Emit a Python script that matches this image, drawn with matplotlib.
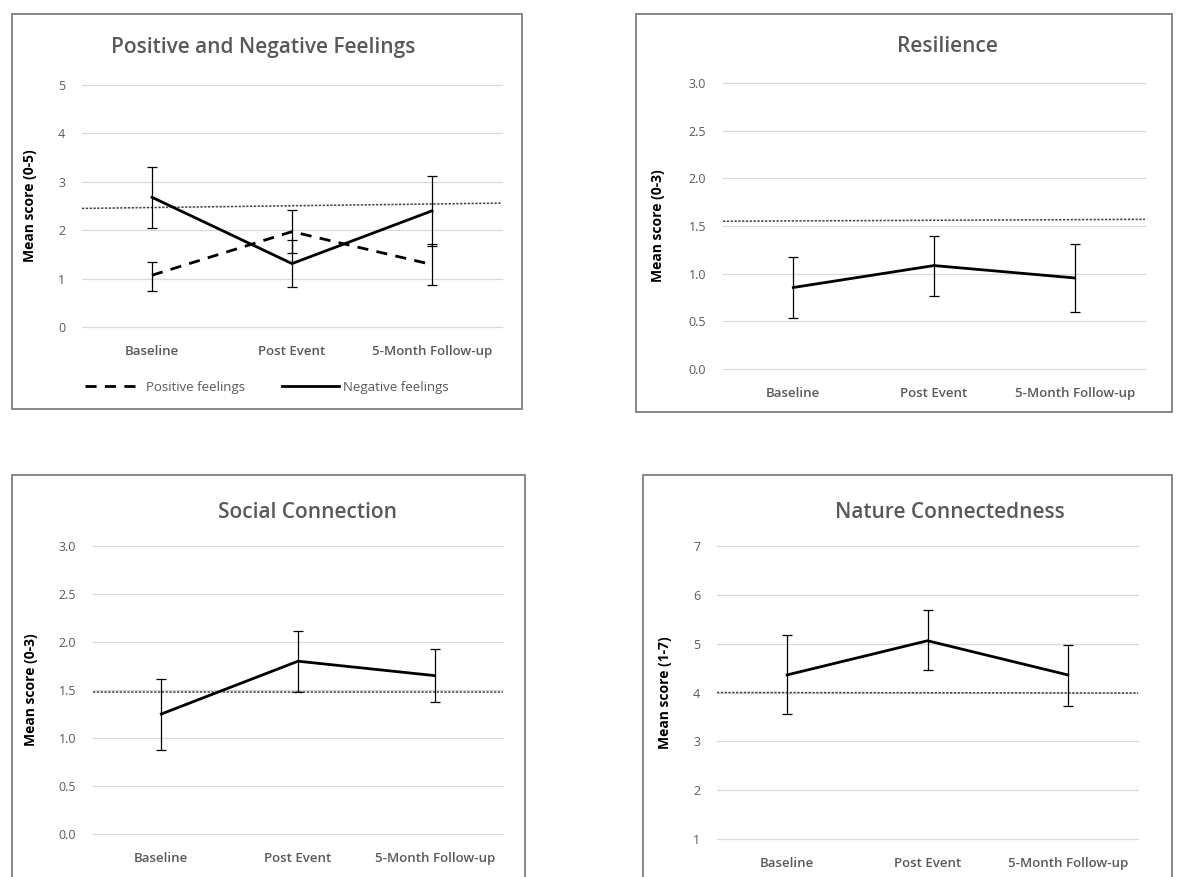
import matplotlib
matplotlib.use("Agg")
import matplotlib.pyplot as plt
from matplotlib.patches import Rectangle

plt.rcParams['font.family'] = ['Open Sans', 'DejaVu Sans']

W, H = 1177, 877

categories = ['Baseline', 'Post Event', '5-Month Follow-up']

# Positive and Negative Feelings
pos_mean = [1.07, 1.97, 1.29]
pos_lo = [0.74, 1.52, 0.87]
pos_hi = [1.35, 2.42, 1.71]
neg_mean = [2.68, 1.31, 2.40]
neg_lo = [2.04, 0.83, 1.68]
neg_hi = [3.31, 1.80, 3.12]
feel_ref = [2.45, 2.56]

# Resilience
res_mean = [0.855, 1.085, 0.955]
res_lo = [0.54, 0.77, 0.60]
res_hi = [1.17, 1.40, 1.31]
res_ref = [1.55, 1.57]

# Social Connection
soc_mean = [1.25, 1.80, 1.65]
soc_lo = [0.88, 1.48, 1.37]
soc_hi = [1.61, 2.11, 1.93]
soc_ref = [1.48, 1.48]

# Nature Connectedness
nat_mean = [4.36, 5.06, 4.36]
nat_lo = [3.56, 4.46, 3.73]
nat_hi = [5.17, 5.69, 4.98]
nat_ref = [4.0, 3.99]

GRAY = '#595959'
GRID = '#d9d9d9'

fig = plt.figure(figsize=(W / 100, H / 100), dpi=100)


def px_axes(x0, x1, ytop, ybot):
    return fig.add_axes([x0 / W, 1 - ybot / H, (x1 - x0) / W, (ybot - ytop) / H])


def frame(x0, x1, ytop, ybot):
    fig.patches.append(Rectangle((x0 / W, 1 - ybot / H), (x1 - x0) / W, (ybot - ytop) / H,
                                 transform=fig.transFigure, fill=False,
                                 edgecolor='#7f7f7f', lw=1.3))


def series(ax, mean, lo, hi, ls='-'):
    x = list(range(len(mean)))
    err = [[m - l for m, l in zip(mean, lo)], [h - m for m, h in zip(mean, hi)]]
    ax.errorbar(x, mean, yerr=err, fmt='none', ecolor='black', elinewidth=0.9,
                capsize=3.5, capthick=0.9, zorder=3)
    line, = ax.plot(x, mean, color='black', lw=2.0, ls=ls, zorder=4)
    return line


def style(ax, ylim, ticks, fmt, ylabel, label_x, x0, x1):
    ax.set_xlim(-0.5, 2.5)
    ax.set_ylim(*ylim)
    ax.set_yticks(ticks)
    ax.set_yticklabels([fmt.format(t) for t in ticks])
    ax.set_xticks(range(3))
    ax.set_xticklabels(categories, fontsize=9.5, color=GRAY, fontweight='semibold')
    for s in ax.spines.values():
        s.set_visible(False)
    ax.tick_params(length=0)
    ax.tick_params(axis='y', labelsize=9, labelcolor=GRAY, pad=12)
    ax.tick_params(axis='x', pad=13)
    for t in ticks:
        ax.axhline(t, color=GRID, lw=0.9, zorder=1, clip_on=False)
    ax.set_ylabel(ylabel, fontsize=10, fontweight='bold', color='black')
    ax.yaxis.set_label_coords((label_x - x0) / (x1 - x0), 0.5)


def ref_line(ax, ref):
    ax.plot([-0.5, 2.5], ref, color='#404040', lw=1.1, ls=(0, (1.5, 1)), zorder=2,
            clip_on=False)


# panel 1
frame(12, 522, 14, 409)
ax1 = px_axes(82, 502, 85, 327)
style(ax1, (0, 5), [0, 1, 2, 3, 4, 5], '{:.0f}', 'Mean score (0-5)', 37, 82, 502)
ref_line(ax1, feel_ref)
p = series(ax1, pos_mean, pos_lo, pos_hi, ls=(0, (4, 3)))
n = series(ax1, neg_mean, neg_lo, neg_hi)
fig.text(263 / W, 1 - 47 / H, 'Positive and Negative Feelings', ha='center', va='center',
         fontsize=15, fontweight='semibold', color=GRAY)
fig.legend([p, n], ['Positive feelings', 'Negative feelings'], loc='center',
           bbox_to_anchor=(267 / W, 1 - 387 / H), ncol=2, frameon=False, fontsize=9.5,
           labelcolor=GRAY, handlelength=4.3, columnspacing=2.8, handletextpad=0.3)

# panel 2
frame(636, 1172, 14, 412)
ax2 = px_axes(723, 1145, 83, 369)
style(ax2, (0, 3), [0, 0.5, 1, 1.5, 2, 2.5, 3], '{:.1f}', 'Mean score (0-3)', 665, 723, 1145)
ref_line(ax2, res_ref)
series(ax2, res_mean, res_lo, res_hi)
fig.text(947 / W, 1 - 47 / H, 'Resilience', ha='center', va='center',
         fontsize=15, fontweight='semibold', color=GRAY)

# panel 3
frame(12, 525, 475, 880)
ax3 = px_axes(93, 503, 546, 834)
style(ax3, (0, 3), [0, 0.5, 1, 1.5, 2, 2.5, 3], '{:.1f}', 'Mean score (0-3)', 38, 93, 503)
ref_line(ax3, soc_ref)
series(ax3, soc_mean, soc_lo, soc_hi)
fig.text(308 / W, 1 - 513 / H, 'Social Connection', ha='center', va='center',
         fontsize=15, fontweight='semibold', color=GRAY)

# panel 4
frame(643, 1172, 475, 880)
ax4 = px_axes(717, 1138, 546, 839)
style(ax4, (1, 7), [1, 2, 3, 4, 5, 6, 7], '{:.0f}', 'Mean score (1-7)', 672, 717, 1138)
ref_line(ax4, nat_ref)
series(ax4, nat_mean, nat_lo, nat_hi)
fig.text(950 / W, 1 - 512 / H, 'Nature Connectedness', ha='center', va='center',
         fontsize=15, fontweight='semibold', color=GRAY)

fig.savefig('out.png', dpi=100)
